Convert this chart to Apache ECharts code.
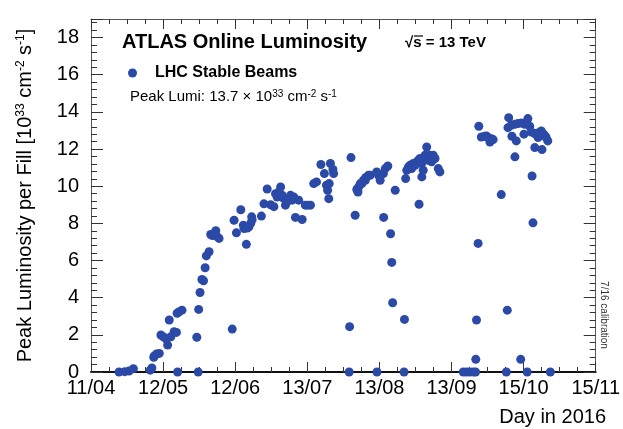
<!DOCTYPE html>
<html>
<head>
<meta charset="utf-8">
<script src="https://cdn.jsdelivr.net/npm/echarts@6/dist/echarts.min.js"></script>
<style>
  html, body { margin: 0; padding: 0; background: #fff; }
  #chart { width: 623px; height: 429px; }
</style>
</head>
<body>
<div id="chart"></div>
<script>
  // day of each fill, counted from 11/04/2016
  var fillDay = [
    12.1, 14.6, 16.4, 18.3,
    25.6, 26.3, 27.1, 27.3, 28.3, 29.5,
    30.2, 31.2, 32.6, 33.1, 33.8, 34.5, 35.9, 36.9, 37.2, 37.4, 38.1, 39.3,
    45.7, 46.3, 46.5, 47.1, 47.9, 48.6, 49.3, 49.8, 51.0, 51.7, 52.4, 53.2, 53.9, 54.6, 55.3,
    61.0, 61.8, 62.8, 64.7, 65.8, 66.1, 66.8, 67.1, 67.5, 68.2, 69.0, 69.4, 69.6,
    73.6, 74.7, 76.1, 77.6, 79.0, 79.7, 80.4, 81.1, 81.9, 82.6, 83.3, 84.0, 84.7, 86.2, 86.9, 87.6, 88.3, 89.7, 91.2, 92.6, 93.6, 94.8,
    96.2, 97.4, 99.3, 100.8, 101.7, 102.2, 102.7, 102.9, 103.4, 104.5, 104.8,
    111.5, 111.7, 112.3, 114.1, 114.8, 115.3, 115.6, 116.3, 117.0, 117.7, 118.5, 118.7, 119.9, 120.6,
    123.4, 123.5, 124.2, 124.9, 126.3, 126.4, 127.1, 128.2, 129.4, 129.9, 130.3, 131.4,
    135.2, 135.4, 135.9, 136.4, 137.1, 137.8, 138.5, 139.2, 140.0, 140.7, 141.4, 141.7, 142.1, 142.8, 142.9, 143.5, 144.3, 145.0, 145.7, 146.4, 147.1, 147.8, 148.6, 150.0, 150.7,
    160.8, 162.2, 163.6, 165.1, 166.1, 166.2, 166.5, 167.2, 167.5, 168.6, 170.1, 170.8, 171.5, 172.3, 172.9, 173.7,
    177.2, 179.4, 179.8, 180.1, 180.4, 181.5, 181.8, 183.0, 183.1, 183.7, 184.4, 185.6, 185.9, 187.0, 187.3, 188.4, 188.7, 189.5, 190.2, 190.5, 190.9, 191.6, 191.7, 193.0, 193.1, 194.5, 194.8, 195.2, 195.9, 196.6, 197.3, 198.4
  ];
  // peak luminosity per fill [1e33 cm-2 s-1]
  var peakLumi = [
    0.0, 0.02, 0.05, 0.18,
    0.1, 0.22, 0.79, 0.86, 0.97, 1.0,
    1.99, 1.90, 1.76, 1.45, 2.8, 1.90, 2.17, 2.13, 3.16, 0, 3.24, 3.33,
    1.87, 0, 3.37, 4.28, 4.98, 4.91, 5.61, 6.25, 6.47, 7.40, 7.35, 7.46, 7.60, 7.27, 7.19,
    2.31, 8.17, 7.49, 8.73, 7.9, 7.72, 7.81, 6.87, 7.75, 7.81, 8.0, 8.35, 8.2,
    8.39, 9.05, 9.85, 9.0, 8.9, 9.6, 9.42, 9.69, 9.96, 9.51, 9.33, 8.98, 9.16, 9.51, 9.25, 9.42, 8.32, 9.25, 8.21, 8.98, 8.98, 8.98,
    10.14, 10.23, 11.17, 10.68, 10.05, 9.78, 9.33, 10.14, 11.22, 10.90, 10.68,
    0, 2.44, 11.54, 8.44, 9.82, 9.69, 9.96, 10.14, 10.14, 10.32, 10.32, 10.47, 10.59, 10.59,
    10.77, 0, 10.59, 10.32, 10.68, 8.32, 10.95, 11.09, 7.44, 5.9, 3.73, 9.78,
    0, 2.83, 10.41, 10.86, 11.04, 11.13, 10.95, 11.22, 11.13, 11.31, 11.4, 9.03, 11.49, 11.22, 10.5, 10.86, 11.67, 12.11, 11.4, 11.67, 11.31, 11.67, 11.49, 10.95, 10.77,
    0, 0, 0, 0, 0, 0.68, 2.8, 6.92, 13.23, 12.65, 12.69, 12.7, 12.62, 12.38, 12.56, 12.51,
    9.55, 0, 3.33, 13.15, 13.69, 13.28, 12.69, 13.33, 11.58, 12.44, 13.37, 0.68, 13.4, 12.8, 13.33, 0, 13.64, 13.23, 12.92, 10.55, 8.03, 12.83, 12.08, 12.87, 12.62, 12.97, 11.97, 12.83, 12.74, 12.62, 12.44, 0
  ];
  var dayLabels = ['11/04', '12/05', '12/06', '13/07', '13/08', '13/09', '15/10', '15/11'];
  var dayMax = 218;
  var dayStep = dayMax / 7;

  var font = 'Liberation Sans, Arial, Helvetica, sans-serif';
  var dotColor = '#2b4aa8';

  var points = [];
  for (var i = 0; i < fillDay.length; i++) {
    points.push([fillDay[i], peakLumi[i]]);
  }

  var chart = echarts.init(document.getElementById('chart'));

  var frameTick = { show: true, inside: true, length: 10, lineStyle: { color: '#333' } };
  var frameMinor = { show: true, length: 5, lineStyle: { color: '#333' } };

  var option = {
    animation: false,
    backgroundColor: '#fff',
    textStyle: { fontFamily: font },
    grid: { left: 91, right: 25, top: 19, bottom: 57 },
    legend: {
      data: ['LHC Stable Beams'],
      left: 123,
      top: 60,
      icon: 'circle',
      itemWidth: 35,
      itemHeight: 9,
      textStyle: { fontSize: 16, fontWeight: 'bold', color: '#000', fontFamily: font }
    },
    xAxis: [
      {
        type: 'value', min: 0, max: dayMax, interval: dayStep,
        axisLine: { show: true, onZero: false, lineStyle: { color: '#111', width: 2 } },
        axisTick: frameTick,
        minorTick: Object.assign({ splitNumber: 4 }, frameMinor),
        splitLine: { show: false },
        axisLabel: {
          fontSize: 20, color: '#000', margin: 6, fontFamily: font,
          formatter: function (v) { return dayLabels[Math.round(v / dayStep)] || ''; }
        }
      },
      {
        type: 'value', min: 0, max: dayMax, interval: dayStep, position: 'top',
        axisLine: { show: true, onZero: false, lineStyle: { color: '#555' } },
        axisTick: frameTick,
        minorTick: Object.assign({ splitNumber: 4 }, frameMinor),
        splitLine: { show: false },
        axisLabel: { show: false }
      }
    ],
    yAxis: [
      {
        type: 'value', min: 0, max: 19, interval: 2,
        axisLine: { show: true, onZero: false, lineStyle: { color: '#555' } },
        axisTick: { show: true, inside: true, length: 12, lineStyle: { color: '#333' } },
        minorTick: { show: true, splitNumber: 5, length: 6, lineStyle: { color: '#333' } },
        splitLine: { show: false },
        axisLabel: {
          fontSize: 20, color: '#000', margin: 12, fontFamily: font, showMaxLabel: false
        },
        name: '{n|Peak Luminosity per Fill [10}{s|33}{n| cm}{s|-2}{n| s}{s|-1}{n|]}',
        nameLocation: 'middle',
        nameGap: 56,
        nameTextStyle: {
          rich: {
            n: { fontSize: 20, color: '#000', fontFamily: font },
            s: { fontSize: 12, color: '#000', fontFamily: font, verticalAlign: 'top' }
          }
        }
      },
      {
        type: 'value', min: 0, max: 19, interval: 2, position: 'right',
        axisLine: { show: true, onZero: false, lineStyle: { color: '#555' } },
        axisTick: { show: true, inside: true, length: 12, lineStyle: { color: '#333' } },
        minorTick: { show: true, splitNumber: 5, length: 6, lineStyle: { color: '#333' } },
        splitLine: { show: false },
        axisLabel: { show: false }
      }
    ],
    graphic: [
      {
        type: 'text', left: 122, top: 32,
        style: { text: 'ATLAS Online Luminosity', fill: '#000', font: 'bold 20px ' + font }
      },
      {
        type: 'text', left: 405, top: 35,
        style: { text: '√s = 13 TeV', fill: '#000', font: 'bold 15px ' + font }
      },
      {
        // overline of the square root
        type: 'line', shape: { x1: 414, y1: 36, x2: 423, y2: 36 },
        style: { stroke: '#000', lineWidth: 1.2 }
      },
      {
        type: 'text', left: 130, top: 89,
        style: {
          text: '{n|Peak Lumi: 13.7 × 10}{s|33}{n| cm}{s|-2}{n| s}{s|-1}',
          rich: {
            n: { fontSize: 15, fill: '#000', fontFamily: font },
            s: { fontSize: 10, fill: '#000', fontFamily: font, verticalAlign: 'top' }
          }
        }
      },
      {
        type: 'text', right: 17, top: 407,
        style: { text: 'Day in 2016', fill: '#000', font: '20px ' + font }
      },
      {
        type: 'text', x: 604, y: 315, rotation: -Math.PI / 2,
        style: { text: '7/16 calibration', fill: '#333', font: '10px ' + font, align: 'center', verticalAlign: 'middle' }
      }
    ],
    series: [
      {
        name: 'LHC Stable Beams',
        type: 'scatter',
        data: points,
        symbolSize: 9,
        itemStyle: { color: dotColor, opacity: 1 }
      }
    ]
  };

  chart.setOption(option);
  window.addEventListener('resize', function () {
    chart.resize();
  });
</script>
</body>
</html>
